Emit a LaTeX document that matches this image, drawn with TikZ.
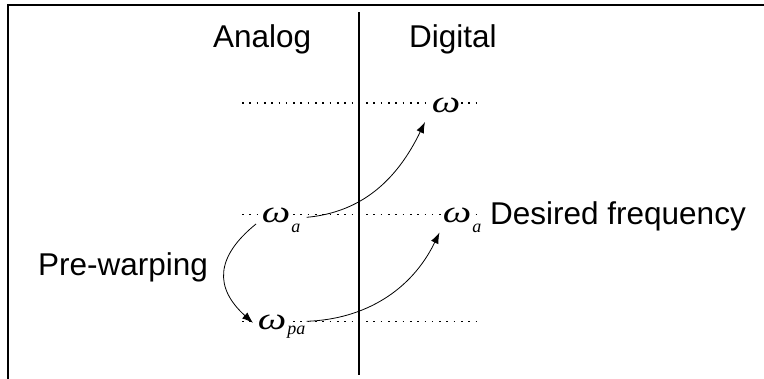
\documentclass[tikz,border=0pt]{standalone}
\usepackage{fontspec}
\setmainfont{Liberation Sans}
\newfontfamily\omfont{Liberation Serif}
\usetikzlibrary{arrows.meta}
\tikzset{
  lbl/.style = {inner sep=0pt, anchor=base west, font=\fontsize{31.5}{36}\selectfont},
  om/.style = {inner sep=0.5pt, anchor=base west, fill=white, xscale=1.3, transform shape, font=\fontsize{31}{34}\omfont\itshape},
  omsub/.style = {inner sep=0pt, anchor=base west, font=\fontsize{18}{20}\omfont\itshape},
  dots/.style = {line width=1.6pt, dash pattern=on 1.6pt off 5.7pt},
  warp/.style = {line width=0.8pt, -{Latex[length=11pt,width=8pt]}}
}

\begin{document}
\begin{tikzpicture}[x=1pt, y=1pt]
            \useasboundingbox (0,0) rectangle (764,379);
            \def\xl{242} \def\xr{476} \def\xm{359}
            \def\yt{276} \def\ym{164.5} \def\yb{57.5}

            \draw [line width=2pt] (8.3,0) -- (8.3,373.5) -- (764,373.5);
            \draw [line width=1.5pt] (\xm,4) -- (\xm,367);

            \draw [dots] (\xl,\yt) -- (\xr,\yt);
            \draw [dots] (\xl,\ym) -- (\xr,\ym);
            \draw [dots] (\xl,\yb) -- (\xr,\yb);

            \node [lbl] (analog) at (213,331.3) {Analog};
            \node [lbl] (digital) at (409,331.3) {Digital};
            \node [lbl] (prewarp) at (38,103) {Pre-warping};
            \node [lbl] (desired) at (490,154) {Desired frequency};

            \node [om] (wT) at (431,266) {ω};
            \node [om] (waL) at (261,156) {ω};
            \node [omsub] (waLs) at ([yshift=-10pt]waL.base east) {a};
            \node [om] (waR) at (442,156) {ω};
            \node [omsub] (waRs) at ([yshift=-10pt]waR.base east) {a};
            \node [om] (wpa) at (257,49) {ω};
            \node [omsub] (wpas) at ([yshift=-5pt]wpa.base east) {pa};

            \draw [warp] ([shift={(6pt,7pt)}]waLs.north east) .. controls +(55,5) and +(-28,-58) .. ([shift={(-6pt,-8pt)}]wT.south west);
            \draw [warp] ([shift={(1pt,5pt)}]wpas.north east) .. controls +(58,2) and +(-28,-58) .. ([shift={(-2.5pt,-8.5pt)}]waR.south west);
            \draw [warp] ([xshift=-5pt]waL.south west) to [out=219, in=138, looseness=1.35] ([xshift=-4pt]wpa.west);
\end{tikzpicture}
\end{document}
